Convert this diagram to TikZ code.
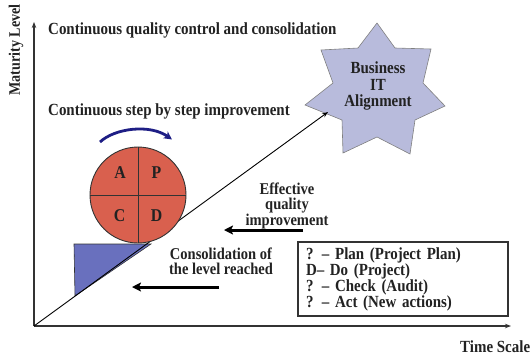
\documentclass[tikz,border=0pt]{standalone}
\usepackage{fontspec}
\setmainfont{Liberation Serif}[FakeStretch=0.88]
\usetikzlibrary{arrows.meta}
\definecolor{txt}{HTML}{222222}
\definecolor{circfill}{HTML}{D9604E}
\definecolor{trifill}{HTML}{6970BE}
\definecolor{starfill}{HTML}{B8BBDC}
\definecolor{navyarc}{HTML}{1E1E85}
\definecolor{linegray}{HTML}{333333}
\tikzset{
  lbl/.style={font=\bfseries\fontsize{17}{13.5}\selectfont, text=txt, inner sep=0pt},
  multilbl/.style={lbl, align=center, font=\bfseries\fontsize{16.5}{15}\selectfont},
  letter/.style={font=\bfseries\fontsize{18}{18}\selectfont, text=txt, inner sep=0pt, anchor=base},
  axis/.style={draw=linegray, line width=1.1pt, -{Stealth[length=6pt,width=4.5pt]}},
  bigarrow/.style={draw=black, line width=3pt, -{Stealth[length=9pt,width=9pt,inset=2pt]}},
  legendbox/.style={draw=linegray, line width=1.3pt, minimum width=210pt, minimum height=74pt,
    text width=194pt, inner xsep=8pt, align=left, font=\bfseries\fontsize{17}{16}\selectfont, text=txt}
}
\begin{document}
\begin{tikzpicture}[x=1pt,y=-1pt]
\useasboundingbox (0,0) rectangle (532,357);
% axes
\coordinate (O) at (34,326);
\coordinate (ytop) at (34,22);
\coordinate (xend) at (511,326);
\coordinate (diagEnd) at (328,112);
\draw[axis] (O) -- (ytop);
\draw[axis] (O) -- (xend);
% axis labels
\node[lbl, font=\bfseries\fontsize{16}{16}\selectfont, rotate=90] (ylab) at (16,50) {Maturity Level};
\node[lbl, anchor=base west] (xlab) at (460,352) {Time Scale};
% top texts
\node[lbl, anchor=base west] (t1) at (48,34) {Continuous quality control and consolidation};
\node[lbl, anchor=base west] (t2) at (48,115) {Continuous step by step improvement};
% star
\filldraw[fill=starfill, draw=gray, line width=0.6pt]
  (377,23) -- (395,48) -- (431,49) -- (423,83) -- (445,106) -- (415,120) -- (410,154)
  -- (377,137) -- (343,153) -- (342,120) -- (305,105) -- (333,83) -- (321,50) -- (358,48) -- cycle;
\node[lbl, align=center, font=\bfseries\fontsize{17}{16.5}\selectfont] (star) at (378,86) {Business\\IT\\Alignment};
% triangle
\filldraw[fill=trifill, draw=linegray, line width=0.6pt] (74,244) -- (151,244) -- (75,296) -- cycle;
% diagonal
\draw[draw=black, line width=0.9pt, -{Stealth[length=6pt,width=4.5pt]}] (O) -- (diagEnd);
% PDCA circle
\node[circle, draw=linegray, line width=0.9pt, fill=circfill, minimum size=96pt, inner sep=0pt] (pdca) at (138,195) {};
\draw[linegray, line width=0.9pt] (pdca.north) -- (pdca.south);
\draw[linegray, line width=0.9pt] (pdca.west) -- (pdca.east);
\node[letter] (A) at (120,178) {A};
\node[letter] (P) at (156.5,178) {P};
\node[letter] (C) at (119.5,221) {C};
\node[letter] (D) at (156.5,221) {D};
% rotating arrow
\coordinate (arcS) at (100,142);
\coordinate (arcE) at (172,139.5);
\draw[navyarc, line width=2.8pt, -{Stealth[length=8pt,width=8pt,inset=2pt]}]
  (arcS) .. controls (115,128) and (150,124) .. (arcE);
% effective quality improvement
\node[multilbl] (eff) at (287,206) {Effective\\quality\\improvement};
\coordinate (a1s) at (303,230);
\coordinate (a1e) at (224,230);
\draw[bigarrow] (a1s) -- (a1e);
% consolidation
\node[multilbl] (cons) at (221,261) {Consolidation of\\the level reached};
\coordinate (a2s) at (219,287);
\coordinate (a2e) at (132,287);
\draw[bigarrow] (a2s) -- (a2e);
% legend
\node[legendbox] (legend) at (403,279) {? -- Plan (Project Plan)\\D-- Do (Project)\\? -- Check (Audit)\\? -- Act (New actions)};
\end{tikzpicture}
\end{document}
